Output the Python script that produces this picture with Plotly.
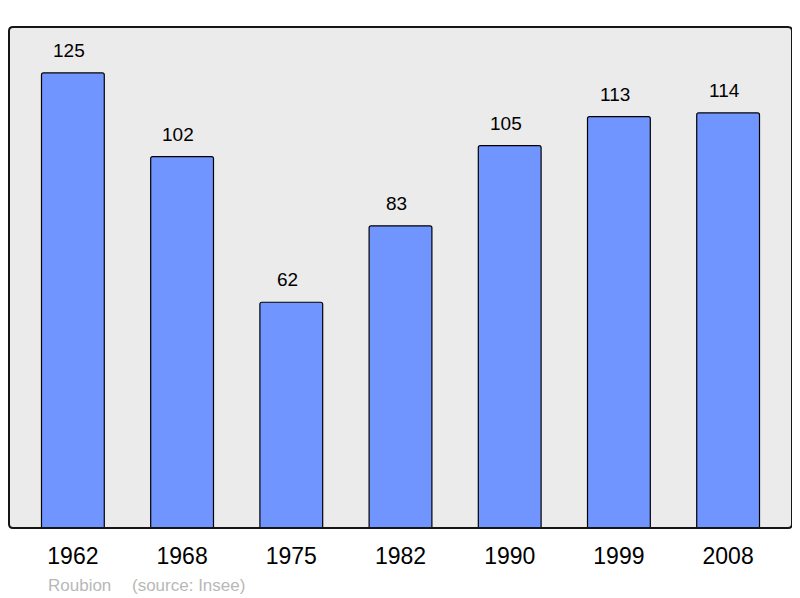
import plotly.graph_objects as go

years = ["1962", "1968", "1975", "1982", "1990", "1999", "2008"]
population = [125, 102, 62, 83, 105, 113, 114]
commune = "Roubion"
source = "(source: Insee)"

FONT = "Liberation Sans, Arial, sans-serif"

# the page body has an 8px margin: figure origin sits at page (8, 8)
L, T = 1, 19
PW, PH = 783, 501
W, H = 800, 598

fig = go.Figure()
fig.add_trace(go.Bar(
    x=list(range(len(years))), y=population,
    marker=dict(color="#7095ff", line=dict(color="#000000", width=1.2), cornerradius=2),
    width=0.575,
    hoverinfo="skip",
))

for i, v in enumerate(population):
    fig.add_annotation(x=i, y=v, text=str(v), showarrow=False, yanchor="bottom",
                       yshift=10, xshift=-4, font=dict(family=FONT, size=19, color="#000"))

foot_y = -(577 - (T + PH)) / PH
fig.add_annotation(xref="paper", yref="paper", x=(38 - L) / PW, y=foot_y,
                   text=commune, showarrow=False, xanchor="left", yanchor="middle",
                   font=dict(family=FONT, size=17, color="#b8b8b8"))
fig.add_annotation(xref="paper", yref="paper", x=(122 - L) / PW, y=foot_y,
                   text=source, showarrow=False, xanchor="left", yanchor="middle",
                   font=dict(family=FONT, size=17, color="#b8b8b8"))

# rounded plot frame
rx, ry = 4 / PW, 4 / PH
path = (f"M {rx},0 L {1-rx},0 Q 1,0 1,{ry} L 1,{1-ry} Q 1,1 {1-rx},1 "
        f"L {rx},1 Q 0,1 0,{1-ry} L 0,{ry} Q 0,0 {rx},0 Z")
fig.add_shape(type="path", xref="paper", yref="paper", path=path,
              line=dict(color="#151515", width=2), layer="above")

fig.update_layout(
    width=W, height=H,
    margin=dict(l=L, r=W - L - PW, t=T, b=H - T - PH, pad=0),
    paper_bgcolor="#ffffff", plot_bgcolor="#ebebeb",
    showlegend=False,
    xaxis=dict(range=[-0.585, 6.585], showgrid=False, ticks="",
               tickmode="array", tickvals=list(range(len(years))), ticktext=years,
               tickfont=dict(family=FONT, size=23, color="#000"),
               ticklabelstandoff=12, zeroline=False, showline=False),
    yaxis=dict(range=[0, 137.6], showgrid=False, showticklabels=False, ticks="",
               zeroline=False, showline=False),
)

fig.write_html("out.html")
